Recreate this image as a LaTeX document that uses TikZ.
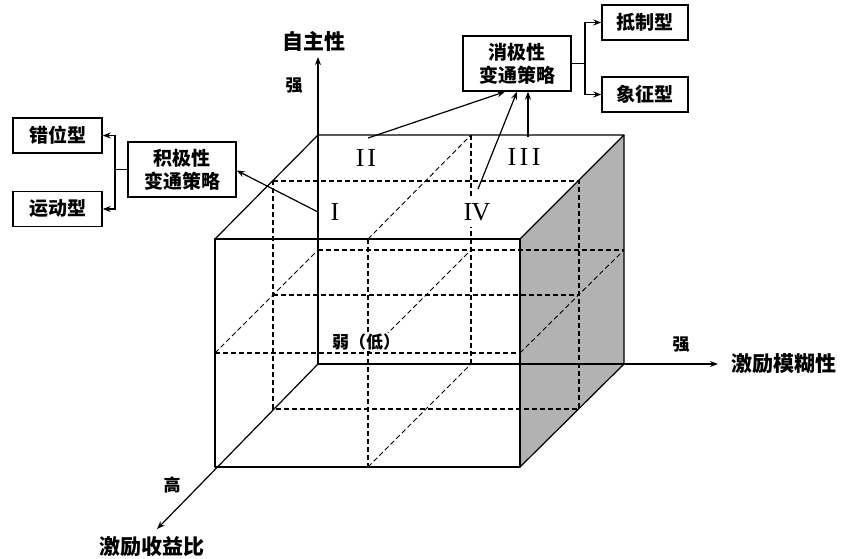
\documentclass[tikz,border=0pt]{standalone}
\usepackage{fontspec}
\setmainfont{Liberation Serif}
\newfontfamily\cjk{Noto Sans CJK SC}
\usetikzlibrary{arrows.meta,calc}
\begin{document}
\begin{tikzpicture}[x=1pt,y=-1pt,
  cubeline/.style={line width=1.2pt,line join=round},
  dashline/.style={line width=1.1pt,dash pattern=on 5pt off 3pt},
  box/.style={draw,line width=1.4pt,inner sep=0pt,align=center,
    font=\cjk\bfseries\fontsize{19}{23}\selectfont},
  smallbox/.style={box,minimum width=89pt,minimum height=35pt},
  bigbox/.style={box,minimum width=108pt,minimum height=55pt},
  arr/.style={line width=1.2pt,-{Stealth[length=8pt,width=6pt]}},
  conn/.style={line width=1.2pt},
  num/.style={font=\fontsize{26}{26}\selectfont,inner sep=1pt,fill=white},
  axislabel/.style={font=\cjk\bfseries\fontsize{21}{21}\selectfont,inner sep=0pt},
  ticklabel/.style={font=\cjk\bfseries\fontsize{17}{17}\selectfont,inner sep=0pt}
]
\useasboundingbox (0,0) rectangle (846,558);
\definecolor{sidegray}{RGB}{178,178,178}

% right face
\fill[sidegray] (520,239) -- (624,135) -- (624,364) -- (520,467) -- cycle;

% dashed interior lines
\draw[dashline] (215,353) -- (520,353);
\draw[dashline] (368,239) -- (368,467);
\draw[dashline] (318,250) -- (624,250);
\draw[dashline] (471,135) -- (471,364);
\draw[dashline,line width=0.9pt] (368,239) -- (471,135);
\draw[dashline,line width=0.9pt] (368,467) -- (471,364);
\draw[dashline,line width=0.9pt] (215,353) -- (318,250);
\draw[dashline,line width=0.9pt] (520,353) -- (624,250);
\draw[dashline,line width=0.9pt] (368,353) -- (471,250);
\draw[dashline] (273,181) -- (579,181) -- (579,409) -- (273,409) -- cycle;
\draw[dashline] (273,295) -- (579,295);

% cube solid edges
\draw[cubeline] (215,239) rectangle (520,467);
\draw[cubeline] (215,239) -- (318,135) -- (624,135) -- (520,239);
\draw[cubeline] (624,135) -- (624,364) -- (520,467);

% axes
\coordinate (O) at (318,364);
\coordinate (ytip) at (318,57);
\coordinate (xtip) at (718,364);
\coordinate (ztip) at (157,529);
\draw[arr] (O) -- (ytip);
\draw[arr] (O) -- (xtip);
\draw[arr] (O) -- (ztip);

\node[axislabel] (ylab) at (314,41) {自主性};
\node[axislabel] (xlab) at (784,364) {激励模糊性};
\node[axislabel] (zlab) at (152,547) {激励收益比};
\node[ticklabel] (ystr) at (294,86) {强};
\node[ticklabel] (xstr) at (681,345) {强};
\node[ticklabel] (zgao) at (172,485) {高};
\node[ticklabel,fill=white,inner sep=0.5pt] (weak) at (366,342) {弱（低）};

% region numerals
\node[num] (n1) at (335,212) {I};
\node[num] (n2) at (366,158) {I\kern3pt I};
\node[num] (n3) at (524,157) {I\kern3.5pt I\kern3.5pt I};
\node[num,minimum height=30pt] (n4) at (477,212) {I\kern-0.5pt V};

% strategy boxes
\node[bigbox] (pos) at (182,169.5) {积极性\\变通策略};
\node[bigbox] (neg) at (517,63.5) {消极性\\变通策略};
\node[smallbox] (cw) at (57.5,135.5) {错位型};
\node[smallbox] (yd) at (57.5,209) {运动型};
\node[smallbox,minimum width=86pt] (dz) at (645,22.5) {抵制型};
\node[smallbox,minimum width=86pt] (xz) at (645,94.5) {象征型};

% branch connectors
\coordinate (lb) at (115,169.5);
\draw[conn] (pos.west) -- (lb);
\draw[arr] (lb) |- (cw.east);
\draw[arr] (lb) |- (yd.east);
\coordinate (rb) at (585,63.5);
\draw[conn] (neg.east) -- (rb);
\draw[arr] (rb) |- (dz.west);
\draw[arr] (rb) |- (xz.west);

% arrows from regions to strategies
\coordinate (s1) at (318,212);
\coordinate (s2) at (368,138);
\coordinate (s4) at (478,189);
\coordinate (s3) at (528,137);
\draw[arr] (s1) -- ($(pos.east)+(0,1)$);
\draw[arr] (s2) -- ($(neg.south)+(-12,0)$);
\draw[arr] (s4) -- ($(neg.south)+(0,0)$);
\draw[arr] (s3) -- ($(neg.south)+(11,0)$);
\end{tikzpicture}
\end{document}
